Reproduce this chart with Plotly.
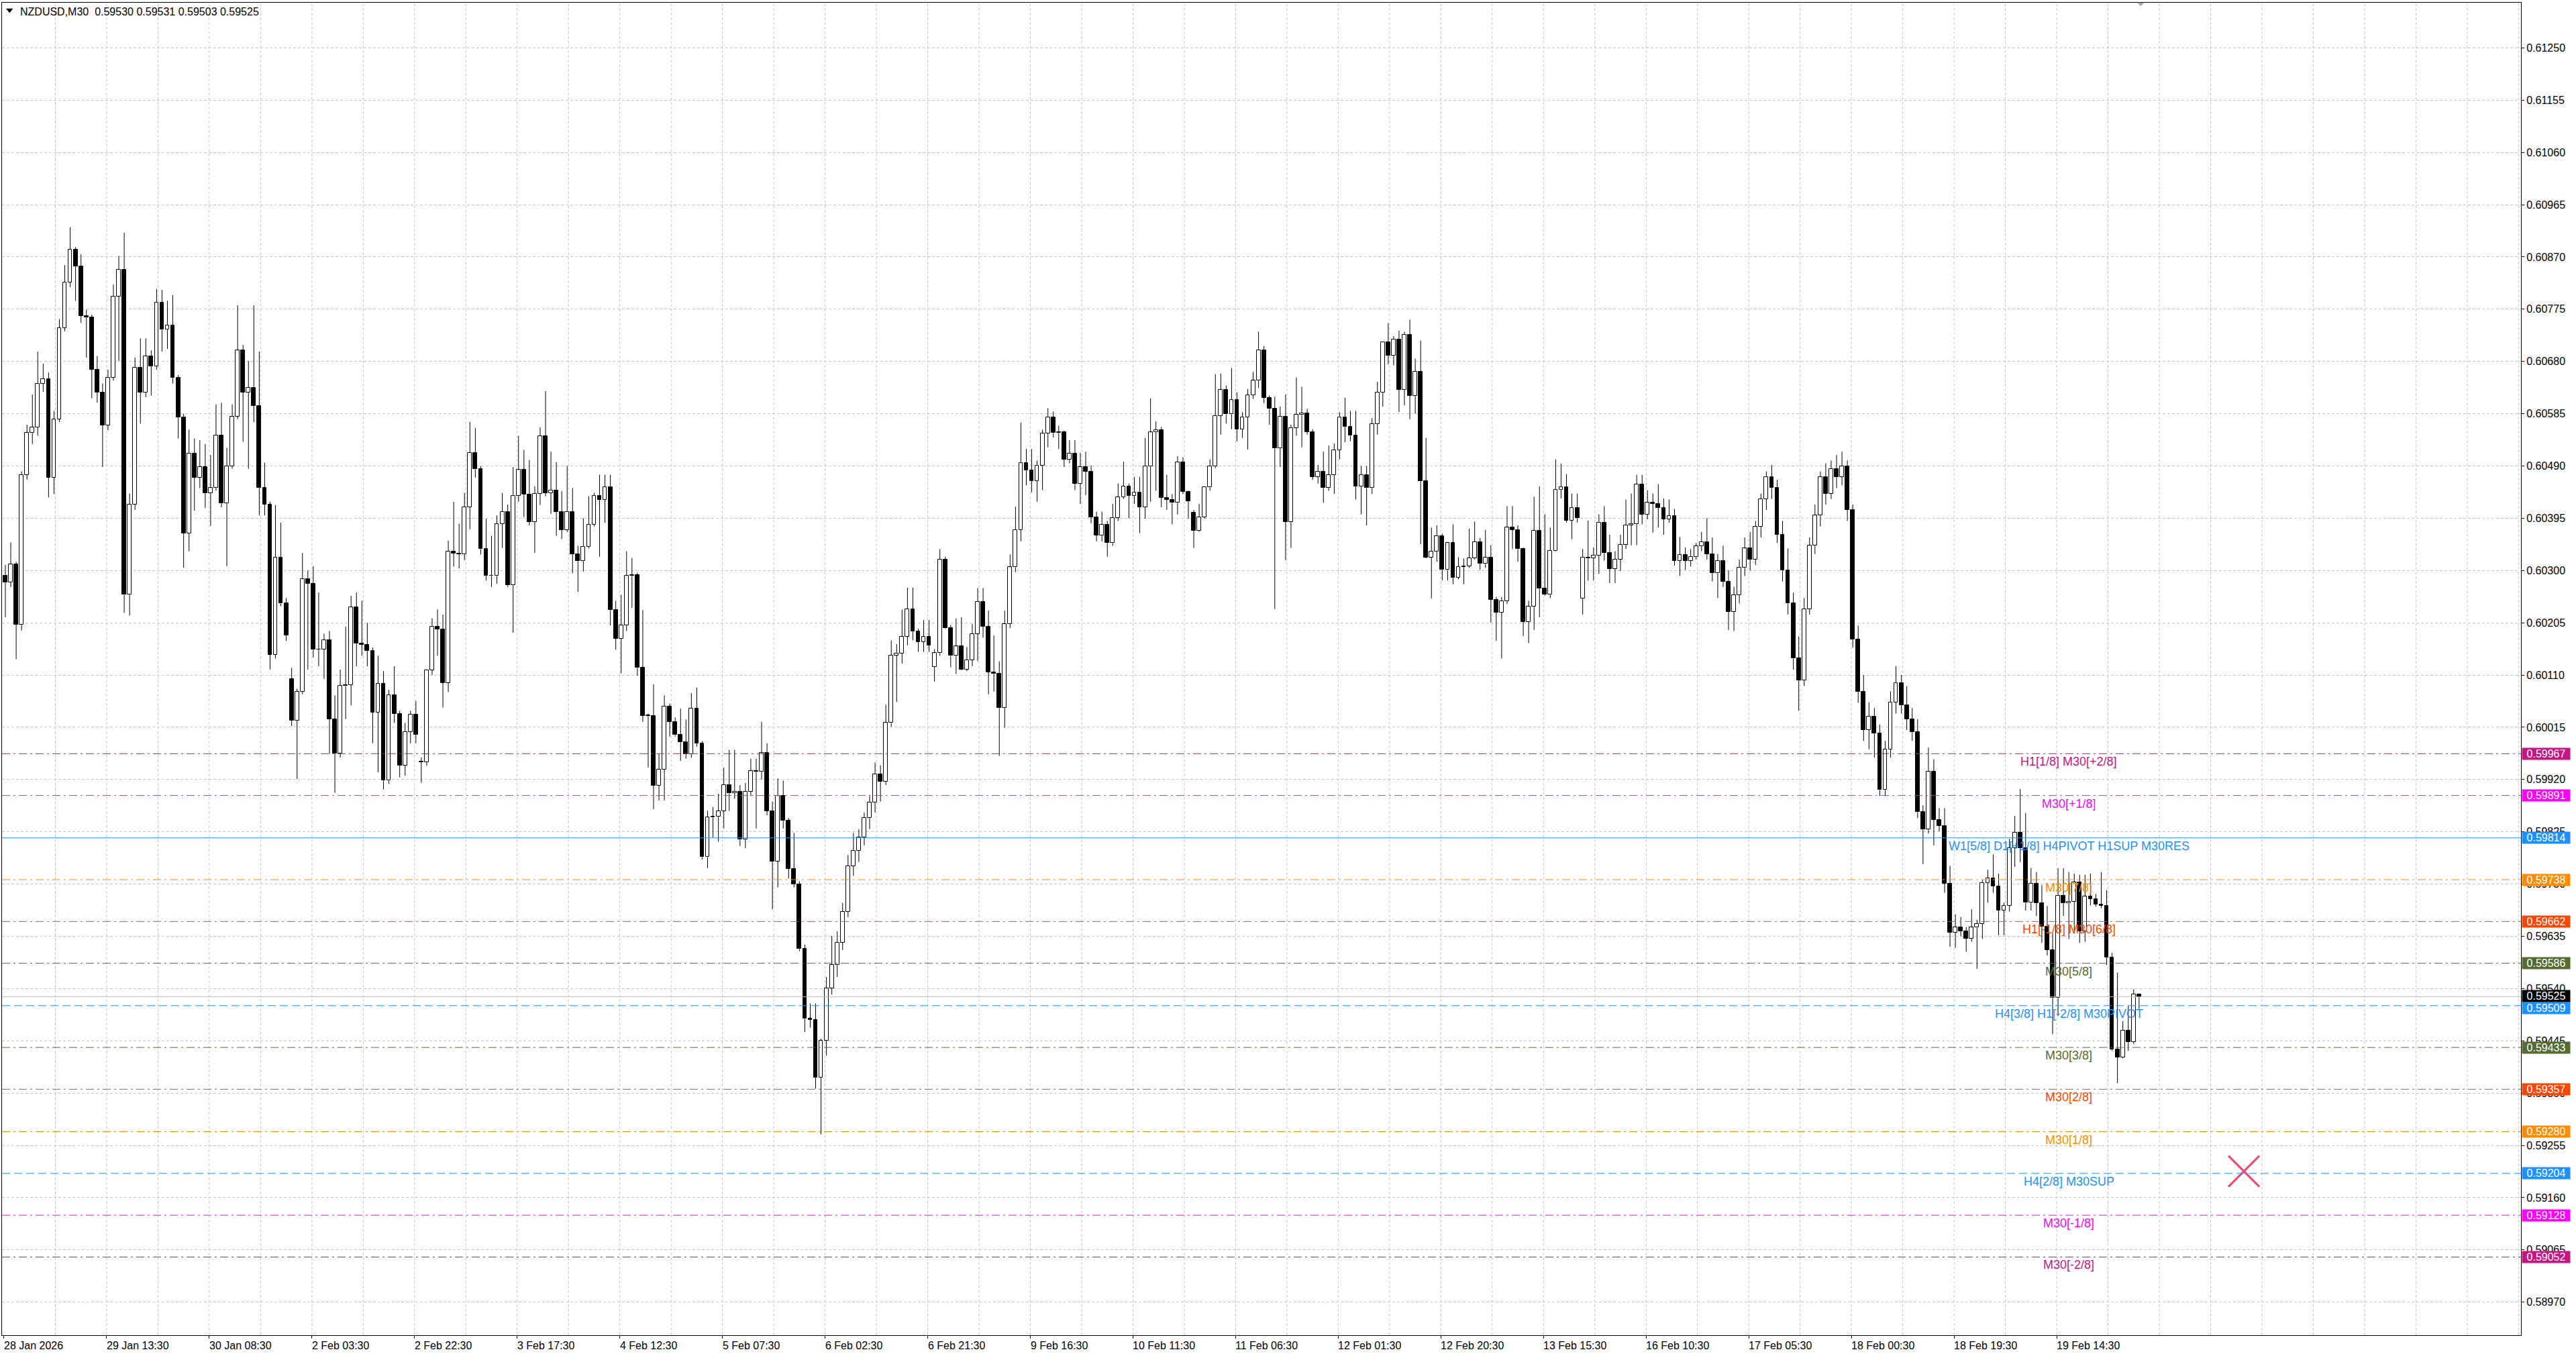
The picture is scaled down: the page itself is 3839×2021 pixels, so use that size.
import plotly.graph_objects as go

# ---------------- data (prices in 1e-5 units, one candle per hour) ----------------
symbol = "NZDUSD,M30"

opens = [
60290,60278,60311,60202,60474,60550,60560,60640,60648,60469,
60575,60741,60824,60883,60853,60763,60760,60665,60624,60564,
60651,60798,60847,60256,60420,60669,60624,60689,60671,60787,
60738,60745,60651,60579,60368,60513,60469,60488,60441,60450,
60546,60422,60490,60580,60700,60624,60632,60599,60450,60420,
60147,60324,60240,60103,60027,60080,60285,60276,60156,60157,
60173,60030,59967,60090,60092,60233,60167,60165,60154,60042,
60094,59918,60073,60039,59946,60007,60038,59952,59952,60119,
60198,60193,60096,60335,60331,60330,60415,60514,60484,60339,
60291,60290,60385,60407,60273,60436,60483,60438,60388,60440,
60544,60441,60446,60407,60374,60407,60330,60317,60343,60383,
60436,60429,60452,60228,60176,60200,60290,60292,60123,60036,
60036,59909,59938,60053,60025,60001,59988,59966,60049,59986,
59779,59851,59853,59863,59910,59895,59898,59811,59898,59936,
59934,59968,59863,59771,59890,59845,59758,59729,59612,59485,
59483,59378,59445,59541,59583,59624,59680,59763,59791,59815,
59850,59878,59930,59916,60023,60146,60149,60180,60230,60189,
60170,60180,60125,60150,60320,60195,60145,60162,60120,60137,
60185,60243,60198,60115,60112,60050,60203,60306,60374,60495,
60482,60463,60491,60549,60579,60550,60551,60502,60513,60458,
60488,60480,60397,60364,60383,60350,60396,60433,60453,60436,
60442,60415,60489,60551,60555,60432,60429,60423,60497,60443,
60405,60372,60397,60451,60489,60581,60629,60584,60610,60556,
60579,60619,60645,60701,60614,60594,60522,60580,60388,60559,
60583,60586,60552,60470,60480,60450,60474,60519,60579,60561,
60545,60453,60474,60450,60566,60624,60715,60691,60720,60629,
60729,60618,60661,60462,60324,60335,60363,60301,60350,60287,
60307,60308,60322,60352,60312,60323,60247,60224,60244,60378,
60374,60339,60207,60234,60372,60267,60256,60336,60447,60452,
60391,60414,60249,60324,60322,60327,60387,60332,60303,60320,
60347,60382,60384,60457,60402,60423,60421,60414,60393,60399,
60318,60329,60318,60325,60344,60352,60330,60295,60318,60280,
60225,60255,60305,60340,60320,60380,60430,60470,60450,60365,
60300,60240,60140,60100,60230,60345,60400,60470,60440,60485,
60470,60490,60410,60175,60080,60010,60035,60004,59901,59975,
60060,60095,60055,60030,60006,59861,59829,59934,59847,59836,
59731,59642,59651,59644,59631,59651,59658,59732,59741,59726,
59682,59691,59796,59824,59795,59696,59731,59695,59653,59610,
59523,59709,59695,59698,59733,59644,59707,59703,59693,59691,
59597,59429,59415,59464,59443,59530,
]

highs = [
60310,60351,60316,60480,60565,60620,60698,60676,60660,60590,
60757,60855,60924,60888,60875,60774,60765,60690,60640,60665,
60820,60872,60914,60440,60687,60722,60722,60700,60812,60810,
60790,60801,60655,60585,60556,60540,60537,60530,60510,60602,
60605,60523,60602,60782,60710,60681,60782,60698,60496,60425,
60419,60387,60250,60123,60085,60332,60300,60308,60260,60185,
60190,60073,60120,60198,60254,60260,60245,60205,60160,60145,
60117,60083,60126,60045,60023,60045,60063,59960,60120,60213,
60229,60220,60354,60425,60385,60441,60570,60559,60490,60394,
60363,60400,60441,60420,60488,60545,60519,60501,60453,60560,
60626,60516,60497,60444,60490,60450,60345,60395,60435,60441,
60474,60474,60474,60245,60256,60335,60323,60296,60228,60040,
60093,59966,60073,60058,60033,60049,60029,60077,60087,59990,
59863,59870,59894,59942,59974,59974,59910,59914,59958,59958,
60025,59986,59880,59922,59918,59850,59823,59735,59620,59513,
59513,59449,59561,59636,59644,59696,59783,59823,59830,59860,
59890,59951,59946,60056,60173,60166,60229,60269,60269,60194,
60210,60210,60157,60339,60325,60201,60213,60215,60161,60203,
60268,60268,60227,60182,60135,60227,60329,60416,60569,60521,
60521,60500,60556,60595,60589,60563,60554,60537,60537,60514,
60516,60491,60407,60407,60390,60421,60458,60498,60458,60470,
60470,60541,60613,60571,60561,60474,60439,60508,60506,60445,
60410,60421,60451,60502,60657,60658,60636,60668,60624,60588,
60630,60661,60734,60708,60618,60616,60598,60620,60565,60651,
60634,60594,60557,60492,60516,60527,60531,60588,60614,60590,
60590,60490,60490,60577,60643,60716,60750,60726,60736,60734,
60756,60685,60718,60541,60378,60382,60367,60352,60384,60324,
60322,60376,60389,60359,60374,60346,60252,60252,60417,60417,
60382,60342,60245,60434,60453,60402,60378,60502,60494,60475,
60440,60440,60339,60391,60342,60402,60417,60365,60335,60365,
60429,60440,60474,60474,60446,60440,60457,60431,60429,60412,
60361,60342,60339,60350,60370,60395,60360,60330,60345,60300,
60270,60320,60360,60370,60390,60440,60480,60492,60465,60390,
60340,60260,60180,60250,60360,60420,60480,60495,60500,60510,
60516,60500,60420,60200,60110,60060,60050,60020,59990,60080,
60126,60110,60090,60050,60030,59873,59978,59957,59868,59868,
59763,59675,59670,59652,59684,59665,59738,59756,59784,59749,
59696,59812,59854,59903,59859,59759,59752,59728,59690,59640,
59759,59759,59752,59749,59747,59747,59749,59712,59752,59719,
59605,59569,59481,59509,59539,59531,
]

lows = [
60215,60270,60139,60191,60465,60530,60545,60625,60433,60439,
60570,60735,60815,60790,60750,60687,60613,60605,60488,60555,
60645,60681,60223,60218,60410,60567,60615,60618,60665,60698,
60703,60640,60540,60305,60335,60409,60450,60414,60381,60445,
60415,60308,60485,60575,60534,60485,60570,60400,60400,60120,
60140,60235,60172,60017,59921,60075,60120,60142,60126,60103,
59967,59896,59960,60030,60055,60126,60145,60126,59986,59933,
59902,59912,60023,59924,59927,59986,59986,59914,59945,60110,
60145,60051,60079,60307,60304,60319,60375,60469,60329,60282,
60270,60276,60341,60270,60187,60425,60397,60382,60332,60419,
60435,60403,60363,60357,60370,60295,60261,60298,60340,60380,
60325,60387,60200,60156,60113,60190,60232,60109,60025,59942,
59866,59882,59882,59998,59998,59954,59958,59960,59980,59775,
59759,59815,59807,59831,59863,59885,59799,59795,59890,59831,
59920,59855,59684,59724,59831,59740,59724,59608,59461,59469,
59358,59275,59418,59529,59561,59610,59670,59745,59770,59800,
59830,59860,59880,59910,60016,60061,60131,60164,60173,60152,
60152,60152,60098,60145,60194,60124,60112,60119,60117,60126,
60135,60178,60075,60080,59963,60014,60195,60297,60353,60455,
60442,60425,60446,60524,60542,60521,60488,60495,60446,60421,
60437,60386,60353,60353,60325,60345,60390,60430,60395,60421,
60368,60394,60425,60445,60415,60410,60384,60402,60439,60394,
60341,60370,60394,60445,60486,60547,60567,60557,60535,60541,
60520,60612,60632,60604,60565,60230,60488,60319,60341,60545,
60524,60547,60465,60458,60423,60445,60439,60502,60533,60535,
60429,60402,60382,60439,60547,60598,60675,60673,60588,60600,
60575,60585,60348,60322,60249,60316,60282,60282,60275,60284,
60275,60305,60320,60301,60305,60205,60172,60140,60239,60339,
60316,60181,60168,60192,60215,60254,60250,60335,60431,60387,
60357,60387,60220,60282,60282,60294,60318,60277,60277,60299,
60339,60346,60346,60384,60393,60369,60378,60365,60387,60309,
60290,60301,60307,60320,60335,60320,60280,60250,60270,60192,
60190,60240,60290,60300,60310,60360,60410,60430,60350,60280,
60220,60120,60045,60090,60220,60330,60380,60420,60430,60450,
60455,60390,60160,60060,59990,59975,59960,59890,59890,59960,
60040,60040,60010,59990,59850,59766,59822,59800,59826,59714,
59616,59614,59635,59607,59625,59576,59630,59696,59714,59637,
59637,59680,59761,59770,59682,59682,59672,59623,59600,59457,
59490,59672,59630,59640,59623,59625,59691,59689,59686,59583,
59427,59368,59413,59427,59439,59503,
]

closes = [
60278,60311,60202,60474,60550,60560,60640,60648,60469,60575,
60741,60824,60883,60853,60763,60760,60665,60624,60564,60651,
60798,60847,60256,60420,60669,60624,60689,60671,60787,60738,
60745,60651,60579,60368,60513,60469,60488,60441,60450,60546,
60422,60490,60580,60700,60624,60632,60599,60450,60420,60147,
60324,60240,60182,60027,60080,60285,60276,60156,60157,60173,
60030,59967,60090,60092,60233,60167,60165,60154,60042,60094,
59918,60073,60039,59946,60007,60038,60002,59952,60119,60198,
60193,60096,60335,60331,60330,60415,60514,60484,60339,60291,
60290,60385,60407,60273,60436,60483,60438,60388,60440,60544,
60441,60446,60407,60374,60407,60330,60317,60343,60383,60436,
60429,60452,60228,60176,60200,60290,60292,60123,60036,60036,
59909,59938,60053,60025,60001,59988,59966,60049,59986,59779,
59851,59853,59863,59910,59895,59898,59811,59898,59936,59934,
59968,59863,59771,59890,59845,59758,59729,59612,59485,59483,
59378,59445,59541,59583,59624,59680,59763,59791,59815,59850,
59878,59930,59916,60023,60146,60149,60180,60230,60189,60170,
60180,60164,60150,60320,60195,60145,60162,60120,60137,60185,
60243,60198,60115,60112,60050,60203,60306,60374,60495,60482,
60463,60491,60549,60579,60550,60551,60502,60513,60458,60488,
60480,60397,60364,60383,60350,60396,60433,60453,60436,60442,
60415,60489,60551,60555,60432,60429,60423,60497,60443,60426,
60372,60397,60451,60489,60581,60629,60584,60610,60556,60579,
60619,60645,60701,60614,60594,60522,60580,60388,60559,60583,
60586,60552,60470,60480,60450,60474,60519,60579,60561,60545,
60453,60474,60450,60566,60624,60715,60691,60720,60629,60729,
60618,60661,60462,60324,60335,60363,60301,60350,60287,60307,
60308,60322,60352,60312,60323,60247,60224,60244,60378,60374,
60339,60207,60234,60372,60267,60256,60336,60447,60452,60391,
60414,60395,60324,60322,60327,60387,60332,60303,60320,60347,
60382,60384,60457,60402,60423,60421,60414,60393,60399,60318,
60329,60318,60325,60344,60352,60330,60295,60318,60280,60225,
60255,60305,60340,60320,60380,60430,60470,60450,60365,60300,
60240,60140,60100,60230,60345,60400,60470,60440,60485,60470,
60490,60410,60175,60080,60010,60035,60004,59901,59975,60060,
60095,60055,60030,60006,59861,59829,59934,59847,59836,59731,
59642,59651,59644,59631,59651,59658,59732,59741,59726,59682,
59691,59796,59824,59795,59696,59731,59695,59653,59610,59523,
59709,59695,59698,59733,59644,59707,59703,59693,59691,59597,
59429,59415,59464,59443,59530,59525,
]

time_labels = ["28 Jan 2026", "29 Jan 13:30", "30 Jan 08:30", "2 Feb 03:30", "2 Feb 22:30",
               "3 Feb 17:30", "4 Feb 12:30", "5 Feb 07:30", "6 Feb 02:30", "6 Feb 21:30",
               "9 Feb 16:30", "10 Feb 11:30", "11 Feb 06:30", "12 Feb 01:30", "12 Feb 20:30",
               "13 Feb 15:30", "16 Feb 10:30", "17 Feb 05:30", "18 Feb 00:30", "18 Feb 19:30",
               "19 Feb 14:30"]
candles_per_label = 19

price_ticks_start = 0.58970
price_ticks_step = 0.00095

level_prices = [0.59967, 0.59891, 0.59814, 0.59738, 0.59662, 0.59586, 0.59509,
                0.59433, 0.59357, 0.59280, 0.59204, 0.59128, 0.59052]
level_names = ["H1[1/8] M30[+2/8]", "M30[+1/8]", "W1[5/8] D1[+1/8] H4PIVOT H1SUP M30RES",
               "M30[7/8]", "H1[-1/8] M30[6/8]", "M30[5/8]", "H4[3/8] H1[-2/8] M30PIVOT",
               "M30[3/8]", "M30[2/8]", "M30[1/8]", "H4[2/8] M30SUP", "M30[-1/8]", "M30[-2/8]"]
bid_price = 0.59525
marker_x_price = 0.59208

# ---------------- styles ----------------
VIOLET = "#C71585"
MAGENTA = "#FF00FF"
BLUE = "#1E90FF"
ORANGE = "#FF8C00"
ORANGERED = "#FF4500"
OLIVE = "#556B2F"
level_colors = [VIOLET, MAGENTA, BLUE, ORANGE, ORANGERED, OLIVE, BLUE,
                OLIVE, ORANGERED, ORANGE, BLUE, MAGENTA, VIOLET]
DASHDOT = "12px,5px,3px,5px"
DASH = "12px,6px"
level_dash = [DASHDOT, DASHDOT, "solid", DASHDOT, DASHDOT, DASHDOT, DASH,
              DASHDOT, DASHDOT, DASHDOT, DASH, DASHDOT, DASHDOT]

FONT = "Arial, 'Liberation Sans', sans-serif"
GRID = "#c6c6c6"
W, H = 3839, 2021
ML, MR, MT, MB = 3, 82, 4, 31
X_RANGE = [-0.62, 465.7]
Y_RANGE = [0.589099, 0.613322]
LABEL_X = 382
SHIFT_MARK_X = 395.3

S = 1e-5
n = min(len(opens), len(highs), len(lows), len(closes))
O = [v * S for v in opens[:n]]
Hh = [v * S for v in highs[:n]]
L = [v * S for v in lows[:n]]
C = [v * S for v in closes[:n]]
xs = list(range(n))

MINH = 0.000008
bull_x, bull_base, bull_h = [], [], []
bear_x, bear_base, bear_h = [], [], []
wx, wy = [], []
for i in xs:
    top = max(O[i], C[i])
    bot = min(O[i], C[i])
    if C[i] >= O[i]:
        bull_x.append(i); bull_base.append(bot); bull_h.append(max(top - bot, MINH))
    else:
        bear_x.append(i); bear_base.append(bot); bear_h.append(max(top - bot, MINH))
    if Hh[i] > top:
        wx += [i, i, None]; wy += [top, Hh[i], None]
    if L[i] < bot:
        wx += [i, i, None]; wy += [L[i], bot, None]

fig = go.Figure()
fig.add_trace(go.Bar(x=bull_x, y=bull_h, base=bull_base, width=0.72,
                     marker=dict(color="white", line=dict(color="black", width=1)),
                     hoverinfo="skip", showlegend=False))
fig.add_trace(go.Bar(x=bear_x, y=bear_h, base=bear_base, width=0.72,
                     marker=dict(color="black", line=dict(color="black", width=1)),
                     hoverinfo="skip", showlegend=False))
fig.add_trace(go.Scatter(x=wx, y=wy, mode="lines", line=dict(color="black", width=1),
                         hoverinfo="skip", showlegend=False))
fig.add_trace(go.Scatter(x=[414.4], y=[marker_x_price], mode="markers",
                         marker=dict(symbol="x-thin", size=46, color="#F0476E",
                                     line=dict(width=3, color="#F0476E")),
                         hoverinfo="skip", showlegend=False))

shapes = []
# vertical dashed grid every half label interval
k = 1
while True:
    gx = (candles_per_label / 2) * k - 0.25
    if gx >= X_RANGE[1]:
        break
    shapes.append(dict(type="line", xref="x", yref="paper", x0=gx, x1=gx, y0=0, y1=1,
                       line=dict(color=GRID, width=1, dash="4px,3px"), layer="below"))
    k += 1

# level lines
for p, col, dsh in zip(level_prices, level_colors, level_dash):
    shapes.append(dict(type="line", xref="paper", yref="y", x0=0, x1=1, y0=p, y1=p,
                       line=dict(color=col, width=1, dash=dsh), layer="above"))
# bid line
shapes.append(dict(type="line", xref="paper", yref="y", x0=0, x1=1, y0=bid_price, y1=bid_price,
                   line=dict(color="#b8b8b8", width=1), layer="above"))
# small triangle before title
shapes.append(dict(type="path", xref="paper", yref="paper", xsizemode="pixel", ysizemode="pixel",
                   xanchor=0, yanchor=1, path="M 6.5,-9 L 16,-9 L 11.25,-15 Z",
                   fillcolor="black", line=dict(color="black", width=0.5)))
# chart-shift marker at the top border
shapes.append(dict(type="path", xref="x", yref="paper", xsizemode="pixel", ysizemode="pixel",
                   xanchor=SHIFT_MARK_X, yanchor=1, path="M -5,0 L 5,0 L 0,-5 Z",
                   fillcolor="#a8a8a8", line=dict(color="#a8a8a8", width=0.5)))

annotations = []
title = "%s\u00a0\u00a0%.5f %.5f %.5f %.5f" % (symbol, O[-1], Hh[-1], L[-1], C[-1])
annotations.append(dict(text=title, xref="paper", yref="paper", x=0, y=1, xanchor="left",
                        yanchor="middle", xshift=25, yshift=-13, showarrow=False,
                        font=dict(family=FONT, size=16, color="black")))

# time labels
for kk, lab in enumerate(time_labels):
    annotations.append(dict(text=lab, xref="x", yref="paper", x=candles_per_label * kk - 0.25, y=0,
                            xanchor="left", yanchor="middle", yshift=-15, xshift=-2,
                            showarrow=False, font=dict(family=FONT, size=16, color="black")))

# level texts
for p, name, col in zip(level_prices, level_names, level_colors):
    annotations.append(dict(text=name, xref="x", yref="y", x=LABEL_X, y=p, xanchor="center",
                            yanchor="middle", yshift=-12, showarrow=False,
                            font=dict(family=FONT, size=18, color=col)))

# price boxes on the right axis
for p, col in zip(level_prices, level_colors):
    shift = -4 if abs(p - 0.59509) < 1e-9 else 0
    annotations.append(dict(text="%.5f" % p, xref="paper", yref="y", x=1, y=p, xanchor="left",
                            yanchor="middle", xshift=1, yshift=shift, showarrow=False, bgcolor=col,
                            width=71, height=17, borderpad=0, align="center",
                            font=dict(family=FONT, size=16, color="white")))
annotations.append(dict(text="%.5f" % bid_price, xref="paper", yref="y", x=1, y=bid_price,
                        xanchor="left", yanchor="middle", xshift=1, yshift=1, showarrow=False,
                        bgcolor="black", width=71, height=17, borderpad=0, align="center",
                        font=dict(family=FONT, size=16, color="white")))

tick_vals = [candles_per_label * kk - 0.25 for kk in range(len(time_labels))]

fig.update_layout(
    width=W, height=H,
    margin=dict(l=ML, r=MR, t=MT, b=MB, pad=0),
    paper_bgcolor="white", plot_bgcolor="white",
    barmode="overlay", bargap=0,
    showlegend=False,
    shapes=shapes, annotations=annotations,
    xaxis=dict(range=X_RANGE, tickmode="array", tickvals=tick_vals, showticklabels=False,
               ticks="outside", ticklen=4, tickcolor="black", tickwidth=1,
               showgrid=False, zeroline=False, showline=True, mirror=True,
               linecolor="black", linewidth=1, fixedrange=True),
    yaxis=dict(range=Y_RANGE, side="right", tickmode="linear", tick0=price_ticks_start,
               dtick=price_ticks_step, tickformat=".5f", ticks="outside", ticklen=4,
               tickcolor="black", showgrid=True, gridcolor=GRID, griddash="4px,3px",
               gridwidth=1, zeroline=False, showline=True, mirror=True, linecolor="black",
               linewidth=1, tickfont=dict(family=FONT, size=16, color="black"), fixedrange=True),
)

fig.write_html("out.html",
               config={"displayModeBar": False},
               post_script="document.body.style.margin='0';document.body.style.padding='0';"
                           "document.documentElement.style.overflow='hidden';")
